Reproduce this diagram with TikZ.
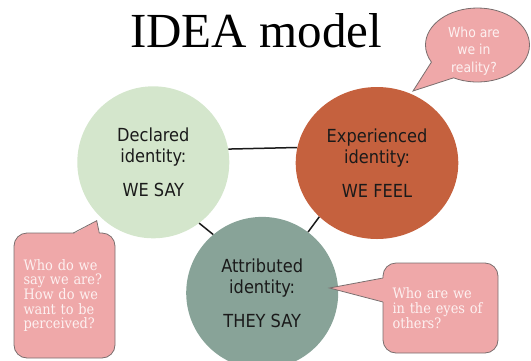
\documentclass[tikz,border=0pt]{standalone}
\usepackage{fontspec}
\setmainfont{Liberation Serif}
\newfontfamily\circfont{DejaVu Sans Condensed}
\newfontfamily\callfont{DejaVu Serif Condensed}
\usetikzlibrary{shapes.geometric,shapes.callouts}
\definecolor{declc}{HTML}{D4E6CC}
\definecolor{expc}{HTML}{C5613E}
\definecolor{attc}{HTML}{88A398}
\definecolor{pinkc}{HTML}{EFA8A9}
\definecolor{edgec}{HTML}{7A6E6E}
\definecolor{calltext}{HTML}{FDF1F1}
\definecolor{linec}{HTML}{1A1A1A}
\begin{document}
\begin{tikzpicture}[x=1pt,y=-1pt,
  idcircle/.style={ellipse, inner sep=0pt, align=center,
    font=\circfont\fontsize{18}{21}\selectfont, text=linec},
  callbox/.style={draw=edgec, fill=pinkc, line width=0.8pt, rounded corners=13pt,
    text=calltext, font=\callfont\fontsize{14.4}{14.7}\selectfont, align=left, inner ysep=0pt},
  pointfill/.style={fill=pinkc},
  pointedge/.style={draw=edgec, line width=0.8pt},
  link/.style={draw=linec, line width=1.5pt}]
\useasboundingbox (0,0) rectangle (531,360);
\clip (0,0) rectangle (531,360);

\node[font=\fontsize{49}{55}\selectfont, anchor=base] (title) at (256,47) {IDEA model};

\node[idcircle, fill=declc, minimum width=152pt, minimum height=152pt] (decl) at (153.3,162.3)
  {Declared\\identity:\\[13pt]WE SAY};
\node[idcircle, fill=expc, minimum width=162.6pt, minimum height=152pt] (exp) at (377,163)
  {Experienced\\identity:\\[13pt]WE FEEL};
\node[idcircle, fill=attc, minimum width=152pt, minimum height=152pt] (att) at (262.2,292.9)
  {Attributed\\identity:\\[13pt]THEY SAY};

\draw[link] (decl.10.5) -- (exp.169.5);
\draw[link] (decl.-53) -- (att.130);
\draw[link] (exp.223.5) -- (att.53);

% bottom-left callout
\node[callbox, minimum width=101pt, minimum height=125pt, text width=82pt, inner xsep=9.5pt]
  (c1) at (64.5,295.5) {Who do we\\say we are?\\How do we\\want to be\\perceived?};
\coordinate (t1) at (96.7,220.7);
\fill[pointfill] (73.3,234.2) -- (t1) -- (99.3,234.2) -- cycle;
\draw[pointedge] (73.3,233) -- (t1) -- (99.3,233);

% bottom-right callout
\node[callbox, minimum width=115pt, minimum height=90pt, text width=96pt, inner xsep=9.5pt]
  (c3) at (440.5,308) {Who are we\\in the eyes of\\others?};
\coordinate (t3) at (329.5,288);
\fill[pointfill] (384,278) -- (t3) -- (384,302) -- cycle;
\draw[pointedge] (383,278) -- (t3) -- (383,302);

% top-right ellipse callout
\coordinate (t2) at (413,91);
\node[ellipse callout, draw=edgec, fill=pinkc, line width=0.8pt, minimum width=104pt,
  minimum height=74pt, inner sep=0pt, callout absolute pointer={(t2)},
  callout pointer arc=35] (c2) at (477.5,45) {};
\node[text=calltext, font=\circfont\fontsize{13.8}{17.5}\selectfont, align=center]
  (c2t) at (474,50.9) {Who are\\we in\\reality?};
\end{tikzpicture}
\end{document}
